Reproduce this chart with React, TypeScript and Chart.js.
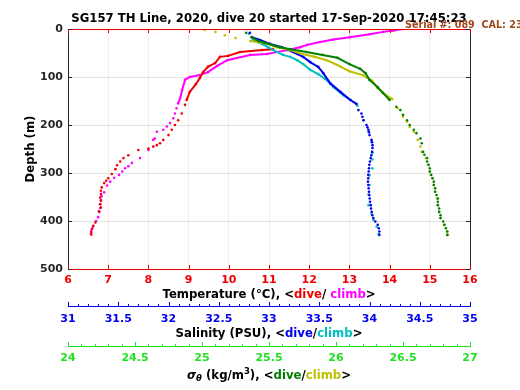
import { useEffect, useRef } from 'react';
import { Chart, registerables } from 'chart.js';

Chart.register(...registerables);

const TITLE = 'SG157 TH Line, 2020, dive 20 started 17-Sep-2020 17:45:23';
const SERIAL = 'Serial #: 089  CAL: 23-Mar-20';

const depthTicks = [0, 100, 200, 300, 400, 500];
const tempTicks = [6, 7, 8, 9, 10, 11, 12, 13, 14, 15, 16];
const salinityTicks = [31, 31.5, 32, 32.5, 33, 33.5, 34, 34.5, 35];
const sigmaTicks = [24, 24.5, 25, 25.5, 26, 26.5, 27];

// Temperature, dive (deg C) and depth (m)
const tempDive = [11.1, 10.83, 10.28, 9.98, 9.78, 9.66, 9.48, 9.36, 9.28, 9.18, 9.03, 8.95, 8.91, 8.83, 8.74, 8.66, 8.58, 8.5, 8.37, 8.29, 8.21, 8.12, 8.0, 7.75, 7.5, 7.38, 7.3, 7.22, 7.18, 7.09, 7.0, 6.95, 6.9, 6.84, 6.82, 6.82, 6.8, 6.82, 6.8, 6.82, 6.77, 6.68, 6.63, 6.6, 6.58, 6.58];
const tempDiveDepth = [42, 44, 48, 56, 58, 71, 79, 90, 102, 115, 131, 148, 158, 176, 190, 200, 210, 221, 231, 238, 242, 245, 249, 252, 263, 269, 276, 284, 292, 302, 311, 316, 321, 330, 337, 344, 351, 358, 365, 372, 380, 403, 410, 416, 423, 428];
// Temperature, climb
const tempClimb = [14.33, 14.1, 13.84, 13.5, 13.01, 12.6, 12.27, 11.95, 11.77, 11.45, 10.95, 10.53, 9.96, 9.71, 9.48, 9.28, 9.03, 8.91, 8.84, 8.79, 8.74, 8.7, 8.66, 8.62, 8.54, 8.46, 8.37, 8.21, 8.16, 8.12, 8.0, 7.79, 7.59, 7.5, 7.42, 7.35, 7.27, 7.15, 7.05, 6.97, 6.9, 6.84, 6.82, 6.8, 6.8, 6.78, 6.75, 6.7, 6.62, 6.58, 6.57];
const tempClimbDepth = [0, 3, 6, 11, 17, 22, 27, 33, 38, 44, 52, 54, 65, 77, 90, 96, 100, 106, 127, 144, 155, 165, 176, 186, 196, 203, 210, 214, 228, 231, 252, 269, 279, 286, 290, 297, 304, 310, 318, 326, 340, 348, 356, 365, 373, 381, 392, 400, 412, 420, 427];
// Salinity, dive (PSU)
const salDive = [32.79, 32.81, 32.83, 32.91, 33.01, 33.13, 33.24, 33.34, 33.41, 33.49, 33.54, 33.61, 33.71, 33.81, 33.87, 33.89, 33.92, 33.93, 33.94, 33.97, 33.98, 33.99, 33.995, 34.0, 34.02, 34.025, 34.03, 34.03, 34.025, 34.018, 34.012, 34.005, 33.998, 33.995, 33.992, 33.988, 33.988, 33.985, 33.988, 33.992, 33.995, 33.998, 34.002, 34.005, 34.012, 34.015, 34.022, 34.028, 34.038, 34.058, 34.082, 34.092, 34.098, 34.098];
const salDiveDepth = [0, 8, 17, 23, 31, 38, 48, 58, 69, 79, 92, 113, 131, 148, 156, 169, 176, 183, 190, 200, 205, 210, 215, 221, 231, 236, 242, 248, 256, 263, 269, 276, 283, 290, 297, 304, 311, 318, 325, 332, 339, 346, 353, 360, 367, 374, 381, 388, 394, 401, 408, 415, 422, 429];
// Salinity, climb
const salClimb = [32.77, 32.8, 32.84, 32.93, 32.99, 33.06, 33.14, 33.21, 33.28, 33.34, 33.41, 33.49, 33.56, 33.64, 33.74, 33.81, 33.88, 33.94, 33.99, 34.02, 34.03, 34.03, 34.03, 34.0, 34.0, 33.99, 33.99, 34.02, 34.04, 34.07, 34.09];
const salClimbDepth = [0, 10, 23, 31, 38, 46, 54, 58, 65, 73, 85, 94, 104, 121, 138, 148, 160, 190, 213, 235, 258, 272, 290, 305, 325, 345, 367, 385, 398, 412, 427];
// Potential density anomaly, dive (kg/m3)
const sigDive = [25.31, 25.33, 25.37, 25.42, 25.47, 25.58, 25.66, 25.78, 25.9, 26.01, 26.1, 26.18, 26.22, 26.25, 26.31, 26.35, 26.4, 26.45, 26.48, 26.5, 26.53, 26.55, 26.58, 26.6, 26.63, 26.64, 26.65, 26.66, 26.68, 26.68, 26.69, 26.7, 26.7, 26.71, 26.72, 26.73, 26.73, 26.74, 26.74, 26.75, 26.76, 26.76, 26.76, 26.77, 26.77, 26.78, 26.78, 26.8, 26.81, 26.82, 26.83, 26.83];
const sigDiveDepth = [0, 8, 17, 25, 29, 38, 42, 48, 54, 60, 73, 83, 92, 106, 121, 133, 148, 162, 169, 179, 190, 200, 210, 217, 228, 238, 256, 262, 269, 276, 283, 290, 297, 304, 311, 318, 325, 332, 339, 346, 353, 360, 367, 374, 381, 388, 394, 401, 408, 415, 422, 429];
// Potential density anomaly, climb
const sigClimb = [24.84, 25.02, 25.1, 25.17, 25.25, 25.36, 25.49, 25.56, 25.66, 25.75, 25.84, 25.93, 26.01, 26.1, 26.2, 26.27, 26.31, 26.35, 26.42, 26.46, 26.5, 26.53, 26.55, 26.58, 26.61, 26.63, 26.64, 26.67, 26.69, 26.7, 26.72, 26.73, 26.74, 26.755, 26.76, 26.77, 26.78, 26.805, 26.83, 26.835];
const sigClimbDepth = [0, 2, 6, 13, 19, 25, 31, 38, 44, 52, 58, 65, 75, 88, 96, 108, 123, 133, 146, 165, 183, 193, 204, 214, 231, 245, 256, 269, 283, 297, 311, 325, 339, 353, 367, 381, 394, 408, 422, 429];

const FONT = '"DejaVu Sans", sans-serif';
const C_RED = '#f00000';
const C_MAG = '#ff00ff';
const C_BLUE = '#0000f0';
const C_CYAN = '#00bfbf';
const C_DGREEN = '#008000';
const C_OLIVE = '#bfbf00';
const C_GREEN = '#22e022';
const DENSE_LIMIT = 157;

function pts(v: number[], d: number[]) {
  return v.map((x, i) => ({ x, y: d[i] }));
}

function profile(label: string, v: number[], d: number[], color: string, xAxisID: string, denseFrom: number) {
  return {
    label,
    data: pts(v, d),
    xAxisID,
    yAxisID: 'y',
    showLine: true,
    borderColor: color,
    backgroundColor: color,
    borderWidth: 2,
    pointRadius: 1.3,
    pointBorderWidth: 0,
    pointHoverRadius: 1.3,
    segment: {
      borderColor: (ctx: any) => {
        const a = ctx.p0.parsed.y;
        const b = ctx.p1.parsed.y;
        return a > DENSE_LIMIT || b > DENSE_LIMIT || a < denseFrom ? 'rgba(0,0,0,0)' : color;
      },
    },
  };
}

type Seg = { t: string; c?: string; f?: string; dy?: number };

function drawSegs(ctx: CanvasRenderingContext2D, segs: Seg[], cx: number, y: number, baseFont: string) {
  let total = 0;
  for (const s of segs) {
    ctx.font = s.f || baseFont;
    total += ctx.measureText(s.t).width;
  }
  let x = cx - total / 2;
  ctx.textAlign = 'left';
  ctx.textBaseline = 'middle';
  for (const s of segs) {
    ctx.font = s.f || baseFont;
    ctx.fillStyle = s.c || '#000';
    ctx.fillText(s.t, x, y + (s.dy || 0));
    x += ctx.measureText(s.t).width;
  }
}

const decor = {
  id: 'decor',
  afterDraw(chart: any) {
    const ctx: CanvasRenderingContext2D = chart.ctx;
    const a = chart.chartArea;
    const sx = chart.scales.x;
    const ss = chart.scales.xs;
    const sd = chart.scales.xd;
    const sy = chart.scales.y;
    ctx.save();
    ctx.lineWidth = 1;
    ctx.strokeStyle = C_RED;
    ctx.beginPath();
    ctx.moveTo(a.left, a.top + 0.5);
    ctx.lineTo(a.right, a.top + 0.5);
    ctx.stroke();
    ctx.strokeStyle = '#262626';
    ctx.beginPath();
    ctx.moveTo(a.right + 0.5, a.top);
    ctx.lineTo(a.right + 0.5, a.bottom);
    ctx.stroke();
    ctx.strokeStyle = C_RED;
    for (const v of tempTicks) {
      const px = Math.round(sx.getPixelForValue(v)) + 0.5;
      ctx.beginPath();
      ctx.moveTo(px, a.bottom);
      ctx.lineTo(px, a.bottom - 4);
      ctx.moveTo(px, a.top);
      ctx.lineTo(px, a.top + 4);
      ctx.stroke();
    }
    ctx.strokeStyle = '#262626';
    for (const v of depthTicks) {
      const py = Math.round(sy.getPixelForValue(v)) + 0.5;
      ctx.beginPath();
      ctx.moveTo(a.left, py);
      ctx.lineTo(a.left + 4, py);
      ctx.moveTo(a.right, py);
      ctx.lineTo(a.right - 4, py);
      ctx.stroke();
    }
    const tickRow = (scale: any, min: number, max: number, color: string) => {
      ctx.strokeStyle = color;
      const n = Math.round((max - min) / 0.1);
      for (let i = 0; i <= n; i++) {
        const v = min + i * 0.1;
        const px = Math.round(scale.getPixelForValue(v)) + 0.5;
        const major = i % 5 === 0;
        ctx.beginPath();
        ctx.moveTo(px, scale.top);
        ctx.lineTo(px, scale.top - (major ? 4 : 2));
        ctx.stroke();
      }
    };
    tickRow(ss, 31, 35, C_BLUE);
    tickRow(sd, 24, 27, C_GREEN);

    const cx = (a.left + a.right) / 2;
    ctx.font = `bold 11.7px ${FONT}`;
    ctx.fillStyle = '#000';
    ctx.textAlign = 'center';
    ctx.textBaseline = 'alphabetic';
    ctx.fillText(TITLE, cx, 21.5);
    ctx.font = `bold 9.6px ${FONT}`;
    ctx.fillStyle = '#a0461e';
    ctx.textAlign = 'left';
    ctx.fillText(SERIAL, 405, 28);
    ctx.save();
    ctx.translate(31, (a.top + a.bottom) / 2);
    ctx.rotate(-Math.PI / 2);
    ctx.font = `bold 11.7px ${FONT}`;
    ctx.fillStyle = '#000';
    ctx.textAlign = 'center';
    ctx.textBaseline = 'middle';
    ctx.fillText('Depth (m)', 0, 0);
    ctx.restore();
    const bf = `bold 11.7px ${FONT}`;
    drawSegs(ctx, [
      { t: 'Temperature (°C), <' },
      { t: 'dive', c: C_RED },
      { t: '/ ' },
      { t: 'climb', c: C_MAG },
      { t: '>' },
    ], cx, sx.top + 26, bf);
    drawSegs(ctx, [
      { t: 'Salinity (PSU), <' },
      { t: 'dive', c: C_BLUE },
      { t: '/' },
      { t: 'climb', c: C_CYAN },
      { t: '>' },
    ], cx, ss.top + 28, bf);
    drawSegs(ctx, [
      { t: 'σ', f: `italic bold 11.7px ${FONT}` },
      { t: 'θ', f: `italic bold 8.5px ${FONT}`, dy: 3 },
      { t: ' (kg/m' },
      { t: '3', f: `bold 8.5px ${FONT}`, dy: -4 },
      { t: '), <' },
      { t: 'dive', c: C_DGREEN },
      { t: '/' },
      { t: 'climb', c: C_OLIVE },
      { t: '>' },
    ], cx, sd.top + 30, bf);
    ctx.restore();
  },
};

const fmt = (v: any) => String(Number(v));

export default function App() {
  const ref = useRef<HTMLCanvasElement>(null);
  useEffect(() => {
    if (!ref.current) return;
    const tickFont = { family: FONT, size: 11, weight: 'bold' as const };
    const chart = new Chart(ref.current, {
      type: 'scatter',
      data: {
        datasets: [
          profile('Sigma dive', sigDive, sigDiveDepth, C_DGREEN, 'xd', 15),
          profile('Sigma climb', sigClimb, sigClimbDepth, C_OLIVE, 'xd', 20),
          profile('Salinity dive', salDive, salDiveDepth, C_BLUE, 'xs', 17),
          profile('Salinity climb', salClimb, salClimbDepth, C_CYAN, 'xs', 20),
          profile('Temperature dive', tempDive, tempDiveDepth, C_RED, 'x', 0),
          profile('Temperature climb', tempClimb, tempClimbDepth, C_MAG, 'x', 0),
        ] as any,
      },
      plugins: [decor],
      options: {
        animation: false,
        responsive: false,
        maintainAspectRatio: false,
        layout: { padding: { left: 0, right: 50, top: 29, bottom: 4 } },
        plugins: { legend: { display: false }, tooltip: { enabled: false }, title: { display: false } },
        scales: {
          y: {
            type: 'linear',
            position: 'left',
            reverse: true,
            min: 0,
            max: 500,
            afterFit: (s: any) => { s.width = 68; },
            afterBuildTicks: (s: any) => { s.ticks = depthTicks.map((v) => ({ value: v })); },
            ticks: { color: '#262626', font: tickFont, padding: 5, callback: fmt },
            grid: { color: 'rgba(0,0,0,0.11)', drawTicks: false },
            border: { color: '#262626' },
          },
          x: {
            type: 'linear',
            position: 'bottom',
            weight: 0,
            min: 6,
            max: 16,
            afterFit: (s: any) => { s.height = 37; },
            afterBuildTicks: (s: any) => { s.ticks = tempTicks.map((v) => ({ value: v })); },
            ticks: { color: C_RED, font: tickFont, padding: 5, maxRotation: 0, autoSkip: false, callback: fmt },
            grid: { color: 'rgba(200,0,0,0.09)', drawTicks: false },
            border: { color: C_RED },
          },
          xs: {
            type: 'linear',
            position: 'bottom',
            weight: 1,
            min: 31,
            max: 35,
            afterFit: (s: any) => { s.height = 40; },
            afterBuildTicks: (s: any) => { s.ticks = salinityTicks.map((v) => ({ value: v })); },
            ticks: { color: C_BLUE, font: tickFont, padding: 7, maxRotation: 0, autoSkip: false, callback: fmt },
            grid: { display: false, drawTicks: false },
            border: { color: C_BLUE },
          },
          xd: {
            type: 'linear',
            position: 'bottom',
            weight: 2,
            min: 24,
            max: 27,
            afterFit: (s: any) => { s.height = 40; },
            afterBuildTicks: (s: any) => { s.ticks = sigmaTicks.map((v) => ({ value: v })); },
            ticks: { color: C_GREEN, font: tickFont, padding: 6, maxRotation: 0, autoSkip: false, callback: fmt },
            grid: { display: false, drawTicks: false },
            border: { color: C_GREEN },
          },
        },
      } as any,
    });
    return () => chart.destroy();
  }, []);
  return (
    <div style={{ position: 'fixed', left: 0, top: 0, width: 520, height: 390, background: '#fff' }}>
      <canvas ref={ref} width={520} height={390} style={{ width: 520, height: 390, display: 'block' }} />
    </div>
  );
}
